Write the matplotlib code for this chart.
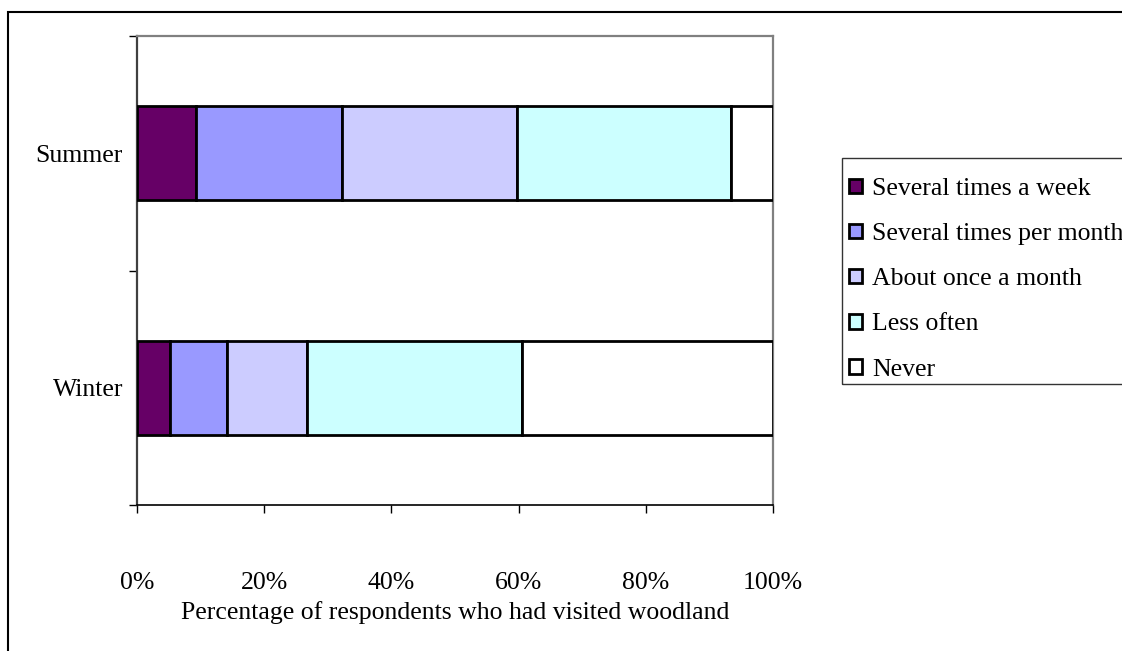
import matplotlib
matplotlib.use("Agg")
import matplotlib.pyplot as plt
from matplotlib.patches import Rectangle

plt.rcParams['font.family'] = ['Liberation Serif', 'DejaVu Serif']

# Data
seasons = ["Winter", "Summer"]
frequencies = ["Several times a week", "Several times per month",
               "About once a month", "Less often", "Never"]
winter_pct = [5.2, 8.9, 12.7, 33.7, 39.5]
summer_pct = [9.3, 22.9, 27.5, 33.7, 6.6]
colors = ["#660066", "#9999FF", "#CCCCFF", "#CCFFFF", "#FFFFFF"]
xtick_labels = ["0%", "20%", "40%", "60%", "80%", "100%"]

W, H = 1122, 651
fig = plt.figure(figsize=(W / 100, H / 100), dpi=100)

# plot area in pixel terms
left, right, top, bottom = 137, 773, 36, 505
ax = fig.add_axes([left / W, 1 - bottom / H, (right - left) / W, (bottom - top) / H])

fs = 18.5
values = [winter_pct, summer_pct]
lefts = [0.0, 0.0]
handles = []
for i, name in enumerate(frequencies):
    widths = [values[0][i], values[1][i]]
    b = ax.barh([0, 1], widths, left=lefts, height=0.4, color=colors[i],
                edgecolor="black", linewidth=2.0, label=name, zorder=3)
    handles.append(b)
    lefts = [lefts[0] + widths[0], lefts[1] + widths[1]]

ax.set_xlim(0, 100)
ax.set_ylim(-0.5, 1.5)

# x axis
ax.set_xticks([0, 20, 40, 60, 80, 100])
ax.set_xticklabels(xtick_labels, fontsize=fs)
ax.tick_params(axis="x", direction="out", length=6, width=1, color="black", pad=42)
ax.set_xlabel("Percentage of respondents who had visited woodland", fontsize=fs, labelpad=5)

# y axis: labels at category centres, tick marks at category boundaries
ax.set_yticks([0, 1])
ax.set_yticklabels(seasons, fontsize=fs)
ax.set_yticks([-0.5, 0.5, 1.5], minor=True)
ax.tick_params(axis="y", which="major", length=0, pad=10)
ax.tick_params(axis="y", which="minor", direction="out", length=6, width=1, color="black")

for s in ["top", "right"]:
    ax.spines[s].set_color("#808080")
    ax.spines[s].set_linewidth(1.6)
ax.spines["left"].set_color("#404040")
ax.spines["left"].set_linewidth(1.6)
ax.spines["bottom"].set_color("black")
ax.spines["bottom"].set_linewidth(1.2)

# legend
leg = fig.legend(handles=handles, labels=frequencies, loc="upper left",
                 bbox_to_anchor=(849 / W, 1 - 178 / H), frameon=False,
                 fontsize=fs, handlelength=0.5, handleheight=0.5,
                 handletextpad=0.4, labelspacing=0.9, borderpad=0,
                 borderaxespad=0)
for p in leg.get_patches():
    p.set_linewidth(2.0)

fig.add_artist(Rectangle((842 / W, 1 - 384 / H), (1130 - 842) / W, (384 - 158) / H,
                         transform=fig.transFigure, fill=False,
                         edgecolor="#333333", linewidth=1.0))

# outer chart frame
fig.add_artist(Rectangle((8 / W, -0.05), 1.1, 1 - 12 / H + 0.05,
                         transform=fig.transFigure, fill=False,
                         edgecolor="black", linewidth=1.5))

fig.savefig("out.png", dpi=100)
